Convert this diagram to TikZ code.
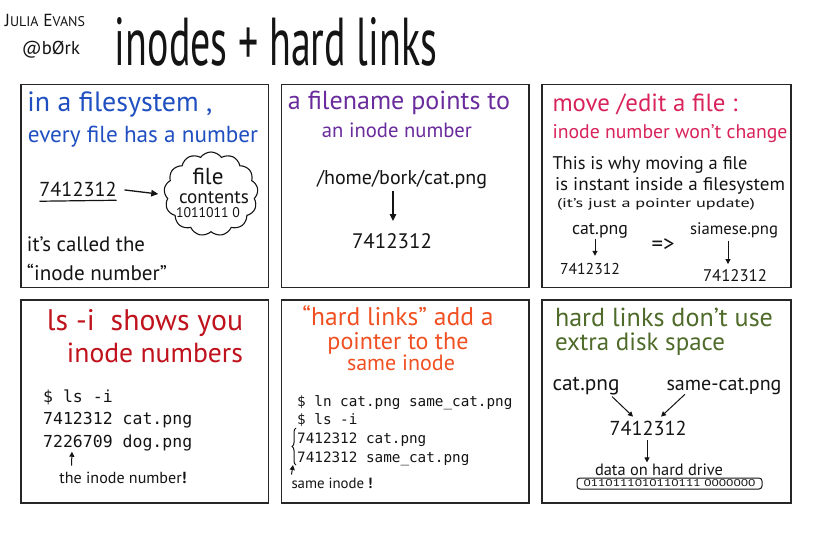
\documentclass[tikz,border=0pt]{standalone}
\usepackage{fontspec}
\setmainfont{PT Sans}
\newfontfamily\monof{DejaVu Sans Mono}
\usetikzlibrary{arrows.meta,shapes.symbols,decorations.pathreplacing,calc}
\newcommand{\hw}[2]{\resizebox{#1pt}{!}{\fontsize{20}{24}\selectfont #2}}
\newcommand{\hwh}[3]{\resizebox{#1pt}{#2pt}{\fontsize{20}{24}\selectfont #3}}
\definecolor{ink}{HTML}{141414}
\definecolor{cblue}{HTML}{1F4FC0}
\definecolor{cpurple}{HTML}{6A2C9C}
\definecolor{cpink}{HTML}{D8245A}
\definecolor{cred}{HTML}{C0121C}
\definecolor{corange}{HTML}{F05022}
\definecolor{cgreen}{HTML}{4F6B2A}
\tikzset{
  panel/.style={draw=black!85, line width=1.8pt},
  hwt/.style={anchor=base, inner sep=0pt, outer sep=0pt, text=ink},
  mono/.style={anchor=base west, inner sep=0pt, text=ink, font=\monof\fontsize{16.5}{20}\selectfont},
  monos/.style={anchor=base west, inner sep=0pt, text=ink, font=\monof\fontsize{14.3}{18}\selectfont},
  arr/.style={-{Triangle[length=7pt,width=6.5pt]}, line width=1.3pt, draw=ink},
  sarr/.style={-{Triangle[length=5pt,width=5pt]}, line width=1pt, draw=ink},
}
\begin{document}
\begin{tikzpicture}[x=1pt,y=-1pt]
\useasboundingbox[fill=white] (0,0) rectangle (816,540);

% header
\node[hwt] (author) at (45,27) {\hw{80}{J{\fontsize{16}{16}\selectfont ULIA} E{\fontsize{16}{16}\selectfont VANS}}};
\node[hwt] (handle) at (51,55) {\hw{58}{@bØrk}};
\node[hwt] (title) at (276,66) {\resizebox{322pt}{48pt}{\fontsize{40}{40}\selectfont inodes + hard links}};

% panels
\draw[panel] (21,84.5) rectangle (268.5,287.5);
\draw[panel] (281.5,84.5) rectangle (529,287.5);
\draw[panel] (542,84.5) rectangle (791,287.5);
\draw[panel] (21,300) rectangle (268.5,503);
\draw[panel] (281.5,300) rectangle (529,503);
\draw[panel] (542,300) rectangle (791,503);

% panel 1
\node[hwt,text=cblue] (p1a) at (120,112) {\hw{185}{in a filesystem ,}};
\node[hwt,text=cblue] (p1b) at (143,143) {\hw{230}{every file has a number}};
\node[hwt] (p1num) at (78,197) {\hw{77}{7412312}};
\node[cloud, cloud ignores aspect, draw=ink, line width=1.1pt, cloud puffs=13, cloud puff arc=110, minimum width=94pt, minimum height=84pt, inner sep=0pt] (cloud) at (211,194) {};
\node[hwt] (p1f) at (208,185) {\hw{31}{file}};
\node[hwt] (p1c) at (214,204) {\hw{70}{contents}};
\node[hwt] (p1d) at (208,218) {\hwh{64}{10}{1011011 0}};
\node[hwt] (p1e) at (86,251) {\hw{118}{it's called the}};
\node[hwt] (p1g) at (97,280) {\hw{140}{“inode number”}};
\draw[arr] ($(p1num.east)+(8,0)$) -- ($(cloud.west)+(-6,0)$);
\draw[ink, line width=1.2pt] ($(p1num.south west)+(0,4)$) -- ($(p1num.south east)+(0,3)$);

% panel 2
\node[hwt,text=cpurple] (p2a) at (399,110) {\hw{222}{a filename points to}};
\node[hwt,text=cpurple] (p2b) at (397,138) {\hw{150}{an inode number}};
\node[hwt] (p2path) at (402,185) {\hw{170}{/home/bork/cat.png}};
\node[hwt] (p2num) at (392,248) {\hw{80}{7412312}};
\draw[arr] ($(p2path.south)+(-9,2)$) -- ($(p2num.north)+(1,-12)$);

% panel 3
\node[hwt,text=cpink] (p3a) at (645,112) {\hw{185}{move /edit a file :}};
\node[hwt,text=cpink] (p3b) at (670,139) {\hw{235}{inode number won't change}};
\node[hwt] (p3c) at (650,169) {\hwh{195}{13}{This is why moving a file}};
\node[hwt] (p3d) at (670,190) {\hwh{230}{13}{is instant inside a filesystem}};
\node[hwt] (p3e) at (656,207) {\hwh{198}{9}{(it's just a pointer update)}};
\node[hwt] (p3cat) at (600,234) {\hw{56}{cat.png}};
\node[hwt] (p3n1) at (590,274) {\hw{60}{7412312}};
\node[hwt,anchor=center] (p3imp) at (663,245) {\hw{23}{=>}};
\node[hwt] (p3siam) at (734,234) {\hw{88}{siamese.png}};
\node[hwt] (p3n2) at (735,281) {\hw{64}{7412312}};
\draw[sarr] ($(p3cat.south)+(-5,1)$) -- ($(p3n1.north)+(5,-7)$);
\draw[sarr] ($(p3siam.south)+(-6,3)$) -- ($(p3n2.north)+(-7,-5)$);

% panel 4
\node[hwt,text=cred] (p4a) at (145,330) {\hw{196}{ls -i\ \ shows you}};
\node[hwt,text=cred] (p4b) at (155,362) {\hw{176}{inode numbers}};
\node[mono] (p4l1) at (43,402) {\$ ls -i};
\node[mono] (p4l2) at (43,424) {7412312 cat.png};
\node[mono] (p4l3) at (43,447) {7226709 dog.png};
\node[hwt] (p4note) at (123,483) {\hw{127}{the inode number\textbf{!}}};
\draw[sarr] ($(p4note.north west)+(12,-6)$) -- ($(p4l3.south west)+(29,1)$);

% panel 5
\node[hwt,text=corange] (p5a) at (398,325) {\hw{191}{“hard links” add a}};
\node[hwt,text=corange] (p5b) at (398,349) {\hw{141}{pointer to the}};
\node[hwt,text=corange] (p5c) at (401,370) {\hw{108}{same inode}};
\node[monos] (p5l1) at (297,406) {\$ ln cat.png same\_cat.png};
\node[monos] (p5l2) at (297,424) {\$ ls -i};
\node[monos] (p5l3) at (297,443) {7412312 cat.png};
\node[monos] (p5l4) at (297,462) {7412312 same\_cat.png};
\coordinate (p5b1) at (296,465);
\coordinate (p5b2) at (296,428);
\draw[ink, line width=1pt, decorate, decoration={brace, amplitude=4pt}] (p5b1) -- (p5b2);
\node[hwt] (p5note) at (332,488) {\hw{81}{same inode \textbf{!}}};
\draw[sarr] ($(p5note.north west)+(0,-3)$) -- ($(p5b1)+(-3,0)$);

% panel 6
\node[hwt,text=cgreen] (p6a) at (664,326) {\hw{218}{hard links don't use}};
\node[hwt,text=cgreen] (p6b) at (640,350) {\hw{170}{extra disk space}};
\node[hwt] (p6cat) at (586,390) {\hw{67}{cat.png}};
\node[hwt] (p6same) at (724,390) {\hw{115}{same-cat.png}};
\node[hwt] (p6num) at (648,435) {\hw{77}{7412312}};
\node[hwt] (p6data) at (659,475) {\hw{128}{data on hard drive}};
\node[draw=ink, line width=1pt, rounded corners=3pt, minimum width=185pt, minimum height=11pt, inner sep=0pt, text=ink] (p6bar) at (669.5,483.5) {\resizebox{172pt}{7pt}{0110111010110111 0000000}};
\draw[sarr] ($(p6cat.south)+(26,2)$) -- ($(p6num.north)+(-15,-4)$);
\draw[sarr] ($(p6same.south)+(-39,0)$) -- ($(p6num.north)+(13,-4)$);
\draw[sarr] ($(p6num.south)+(-1,5)$) -- ($(p6data.north)+(-12,-1)$);
\end{tikzpicture}
\end{document}
